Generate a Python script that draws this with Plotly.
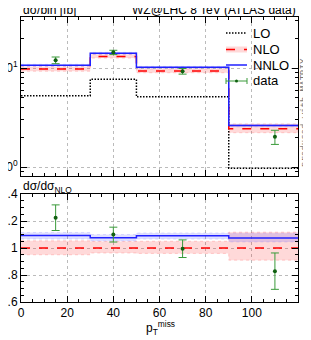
import plotly.graph_objects as go

# ---- data ----
bin_edges = [0, 30, 50, 90, 120]
lo_vals = [5.25, 7.7, 5.13, 0.98]
nlo_vals = [9.8, 13.1, 9.35, 2.45]
nnlo_vals = [10.7, 14.1, 10.2, 2.63]
nlo_band_lo = [0.95, 0.963, 0.96, 0.91]
nlo_band_hi = [1.053, 1.048, 1.05, 1.117]
nnlo_band_lo = [1.066, 1.052, 1.066, 1.045]
nnlo_band_hi = [1.115, 1.10, 1.112, 1.11]
data_x = [15, 40, 70, 110]
data_vals = [12.0, 14.4, 9.3, 2.03]
data_err = [0.93, 0.72, 0.61, 0.33]
x_ticks = [0, 20, 40, 60, 80, 100]
top_y_ticks = [1, 10]
top_y_labels = ["10<sup>0</sup>", "10<sup>1</sup>"]
ratio_ticks = [0.6, 0.8, 1.0, 1.2, 1.4]
ratio_labels = ["0.6", "0.8", "1", "1.2", "1.4"]

# page body has an 8px default margin; map screen pixels into figure coordinates
OFF = 8
W, H = 311 - OFF, 340 - OFF
def px(x):
    return (x - OFF) / W
def py(y):
    return 1 - (y - OFF) / H

def step(v):
    return list(v) + [v[-1]]

fig = go.Figure()

nlo_lo_abs = [a * b for a, b in zip(nlo_vals, nlo_band_lo)]
nlo_hi_abs = [a * b for a, b in zip(nlo_vals, nlo_band_hi)]
nnlo_lo_abs = [a * b for a, b in zip(nlo_vals, nnlo_band_lo)]
nnlo_hi_abs = [a * b for a, b in zip(nlo_vals, nnlo_band_hi)]
nnlo_ratio = [a / b for a, b in zip(nnlo_vals, nlo_vals)]
data_ratio = [a / b for a, b in zip(data_vals, nlo_vals)]
data_ratio_err = [a / b for a, b in zip(data_err, nlo_vals)]

pink = "rgba(255,0,0,0.15)"
pinkline = "rgba(255,100,100,0.5)"
lblue = "rgba(60,60,255,0.16)"

def band(lo, hi, fill, xa, ya, lc):
    fig.add_trace(go.Scatter(x=bin_edges, y=step(lo), mode="lines", line=dict(shape="hv", width=0.6, color=lc, dash="dot"),
                             xaxis=xa, yaxis=ya, showlegend=False, hoverinfo="skip"))
    fig.add_trace(go.Scatter(x=bin_edges, y=step(hi), mode="lines", line=dict(shape="hv", width=0.6, color=lc, dash="dot"),
                             fill="tonexty", fillcolor=fill, xaxis=xa, yaxis=ya, showlegend=False, hoverinfo="skip"))

lo_dash = "1.5px,1.5px"

# top panel
band(nlo_lo_abs, nlo_hi_abs, pink, "x", "y", pinkline)
band(nnlo_lo_abs, nnlo_hi_abs, lblue, "x", "y", "rgba(100,100,255,0.3)")
fig.add_trace(go.Scatter(x=bin_edges, y=step(lo_vals), mode="lines", line=dict(shape="hv", color="black", width=1.5, dash=lo_dash),
                         xaxis="x", yaxis="y", showlegend=False))
fig.add_trace(go.Scatter(x=bin_edges, y=step(nlo_vals), mode="lines", line=dict(shape="hv", color="red", width=1.5, dash="dash"),
                         xaxis="x", yaxis="y", showlegend=False))
fig.add_trace(go.Scatter(x=bin_edges, y=step(nnlo_vals), mode="lines", line=dict(shape="hv", color="#2020ff", width=1.5),
                         xaxis="x", yaxis="y", showlegend=False))
fig.add_trace(go.Scatter(x=data_x, y=data_vals, mode="markers", marker=dict(color="#106010", size=4),
                         error_y=dict(type="data", array=data_err, color="#3a9a3a", thickness=1, width=4),
                         xaxis="x", yaxis="y", showlegend=False))

# ratio panel
band(nlo_band_lo, nlo_band_hi, pink, "x2", "y2", pinkline)
band(nnlo_band_lo, nnlo_band_hi, lblue, "x2", "y2", "rgba(100,100,255,0.3)")
fig.add_trace(go.Scatter(x=bin_edges, y=step([1, 1, 1, 1]), mode="lines", line=dict(shape="hv", color="red", width=1.5, dash="dash"),
                         xaxis="x2", yaxis="y2", showlegend=False))
fig.add_trace(go.Scatter(x=bin_edges, y=step(nnlo_ratio), mode="lines", line=dict(shape="hv", color="#2020ff", width=1.5),
                         xaxis="x2", yaxis="y2", showlegend=False))
fig.add_trace(go.Scatter(x=data_x, y=data_ratio, mode="markers", marker=dict(color="#106010", size=4),
                         error_y=dict(type="data", array=data_ratio_err, color="#3a9a3a", thickness=1, width=4),
                         xaxis="x2", yaxis="y2", showlegend=False))

font = dict(family="Liberation Sans, Arial, sans-serif", size=12, color="black")
axcommon = dict(showline=True, mirror="allticks", linecolor="black", linewidth=1, ticks="inside",
                ticklen=6, tickcolor="black", showgrid=True, gridcolor="#bbbbbb", griddash="dot", gridwidth=1,
                zeroline=False, tickfont=font, automargin=False)

fig.update_layout(
    width=W, height=H, margin=dict(l=0, r=0, t=0, b=0, autoexpand=False),
    paper_bgcolor="white", plot_bgcolor="white", font=font,
    xaxis=dict(domain=[px(21), px(298)], range=[0, 120], anchor="y", tickvals=x_ticks, showticklabels=False,
               minor=dict(ticks="inside", ticklen=3, dtick=5, tickcolor="black"), **axcommon),
    yaxis=dict(domain=[py(176), py(17)], type="log", range=[-0.088, 1.515], anchor="x",
               tickvals=top_y_ticks, ticktext=top_y_labels,
               minor=dict(ticks="inside", ticklen=3, tickcolor="black", dtick="D1"), **axcommon),
    xaxis2=dict(domain=[px(21), px(298)], range=[0, 120], anchor="y2", tickvals=x_ticks,
                minor=dict(ticks="inside", ticklen=3, dtick=5, tickcolor="black"), **axcommon),
    yaxis2=dict(domain=[py(302), py(194)], range=[0.6, 1.4], anchor="x2", tickvals=ratio_ticks, ticktext=ratio_labels,
                minor=dict(ticks="inside", ticklen=3, dtick=0.05, tickcolor="black"), **axcommon),
)

ann = []
ann.append(dict(x=px(21), y=py(10), xref="paper", yref="paper", text="dσ/bin [fb]", showarrow=False,
                xanchor="left", yanchor="middle", font=font))
ann.append(dict(x=px(298), y=py(10), xref="paper", yref="paper", text="WZ@LHC 8 TeV (ATLAS data)", showarrow=False,
                xanchor="right", yanchor="middle", font=font))
ann.append(dict(x=px(21), y=py(187), xref="paper", yref="paper", text="dσ/dσ<sub>NLO</sub>", showarrow=False,
                xanchor="left", yanchor="middle", font=font))
ann.append(dict(x=px(160), y=py(328), xref="paper", yref="paper", text="p<sub>T</sub><sup>miss</sup>", showarrow=False,
                xanchor="center", yanchor="middle", font=font))
ann.append(dict(x=px(304), y=py(113), xref="paper", yref="paper", text="produced with MATRIX", showarrow=False,
                textangle=-90, xanchor="center", yanchor="middle",
                font=dict(family="DejaVu Sans Mono, monospace", size=9, color="#777777")))

# legend (manual)
leg_names = ["LO", "NLO", "NNLO", "data"]
leg_y = [33, 49.5, 65, 81]
shapes = []
x0, x1 = 226, 247
shapes.append(dict(type="rect", xref="paper", yref="paper", x0=px(x0), x1=px(x1), y0=py(leg_y[1] - 3), y1=py(leg_y[1] + 3),
                   fillcolor=pink, line=dict(width=0)))
shapes.append(dict(type="line", xref="paper", yref="paper", x0=px(x0), x1=px(x1), y0=py(leg_y[0]), y1=py(leg_y[0]),
                   line=dict(color="black", width=1.5, dash=lo_dash)))
shapes.append(dict(type="line", xref="paper", yref="paper", x0=px(x0), x1=px(x1), y0=py(leg_y[1]), y1=py(leg_y[1]),
                   line=dict(color="red", width=1.5, dash="dash")))
shapes.append(dict(type="line", xref="paper", yref="paper", x0=px(x0), x1=px(x1), y0=py(leg_y[2]), y1=py(leg_y[2]),
                   line=dict(color="#2020ff", width=1.5)))
shapes.append(dict(type="line", xref="paper", yref="paper", x0=px(x0), x1=px(x1), y0=py(leg_y[3]), y1=py(leg_y[3]),
                   line=dict(color="#3a9a3a", width=1)))
for xe in (x0, x1):
    shapes.append(dict(type="line", xref="paper", yref="paper", x0=px(xe), x1=px(xe), y0=py(leg_y[3] - 3), y1=py(leg_y[3] + 3),
                       line=dict(color="#3a9a3a", width=1)))
shapes.append(dict(type="circle", xref="paper", yref="paper", x0=px(235), x1=px(238), y0=py(leg_y[3] - 1.5), y1=py(leg_y[3] + 1.5),
                   fillcolor="#106010", line=dict(width=0)))
for name, yy in zip(leg_names, leg_y):
    ann.append(dict(x=px(251), y=py(yy), xref="paper", yref="paper", text=name, showarrow=False,
                    xanchor="left", yanchor="middle", font=dict(family=font["family"], size=13, color="black")))

fig.update_layout(annotations=ann, shapes=shapes)
fig.write_html("out.html")
